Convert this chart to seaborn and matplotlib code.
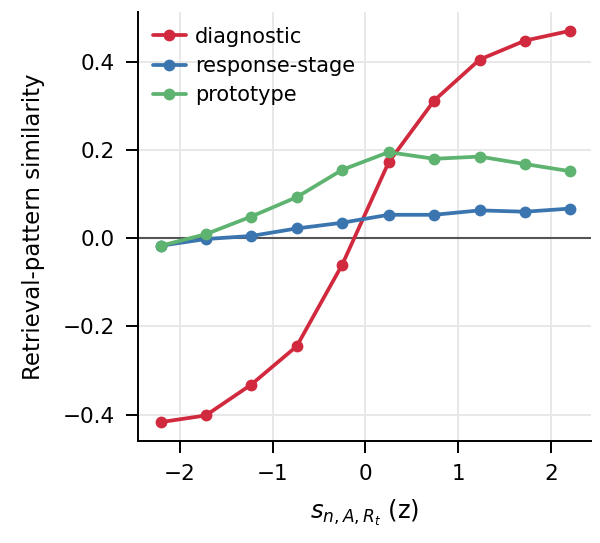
import numpy as np
import pandas as pd
import matplotlib
matplotlib.use("Agg")
import matplotlib.pyplot as plt
import seaborn as sns

# bin centres of s (z)
x_bins = [-2.2, -1.72, -1.23, -0.74, -0.25, 0.25, 0.74, 1.23, 1.72, 2.2]

diagnostic = [-0.417, -0.402, -0.332, -0.245, -0.060, 0.172, 0.312, 0.405, 0.448, 0.470]
response_stage = [-0.017, -0.002, 0.005, 0.022, 0.035, 0.053, 0.053, 0.063, 0.060, 0.067]
prototype = [-0.017, 0.009, 0.049, 0.093, 0.155, 0.195, 0.180, 0.185, 0.168, 0.152]

names = ["diagnostic", "response-stage", "prototype"]
colors = ["#d1293d", "#3a75b0", "#5db36f"]

df = pd.DataFrame({
    "x": x_bins * 3,
    "y": diagnostic + response_stage + prototype,
    "model": np.repeat(names, len(x_bins)),
})

sns.set_style("ticks")
plt.rcParams["font.family"] = ["DejaVu Sans"]
plt.rcParams.update({"text.color": "black", "axes.labelcolor": "black",
                     "xtick.color": "black", "ytick.color": "black",
                     "axes.edgecolor": "black"})

fig, ax = plt.subplots(figsize=(6, 5.43), dpi=100)
ax.grid(True, color="#e8e8e8", linewidth=1.4)
ax.set_axisbelow(True)
ax.axhline(0, color="#555555", linewidth=1.5, zorder=1)

sns.lineplot(data=df, x="x", y="y", hue="model", hue_order=names,
             palette=colors, marker="o", markersize=8.5, markeredgewidth=0,
             linewidth=2.7, ax=ax)

ax.set_xlim(-2.45, 2.43)
ax.set_ylim(-0.461, 0.513)
ax.set_xticks([-2, -1, 0, 1, 2])
ax.set_yticks([-0.4, -0.2, 0.0, 0.2, 0.4])
ax.set_xlabel(r"$s_{n,A,R_t}$ (z)", fontsize=17.5, labelpad=10)
ax.set_ylabel("Retrieval-pattern similarity", fontsize=16.5, labelpad=13)
ax.tick_params(labelsize=15.5, length=8.5, width=1.4, pad=8)
for s in ["left", "bottom"]:
    ax.spines[s].set_linewidth(1.4)
sns.despine(ax=ax)

leg = ax.legend(loc="upper left", frameon=False, fontsize=15,
                handlelength=1.6, handletextpad=0.45, borderaxespad=0.3,
                labelspacing=0.45)

fig.subplots_adjust(left=0.23, right=0.985, bottom=0.187, top=0.978)
fig.savefig("out.png", dpi=100)
